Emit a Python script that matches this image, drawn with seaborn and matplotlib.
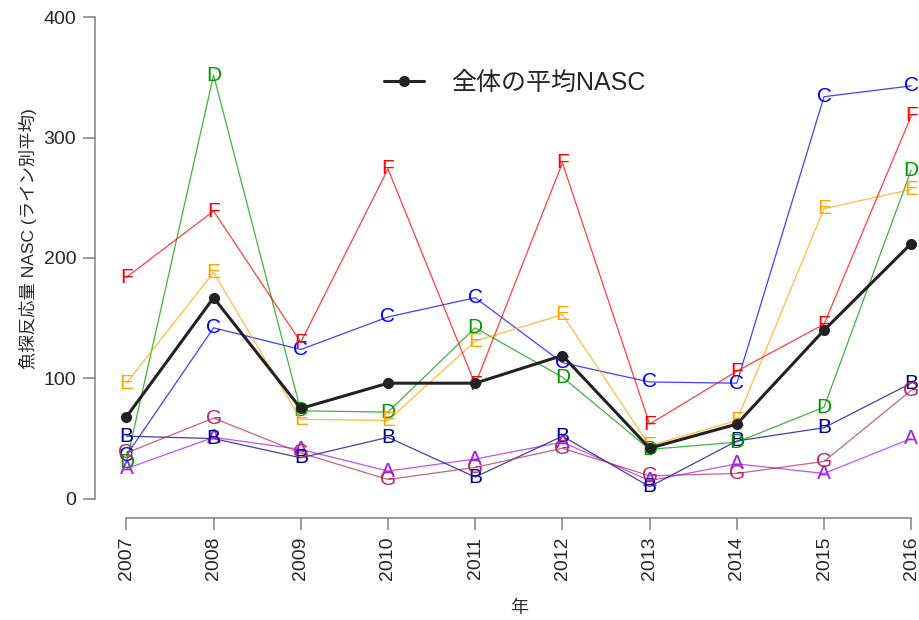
import pandas as pd
from matplotlib import pyplot as plt
import seaborn as sns

years = [2007, 2008, 2009, 2010, 2011, 2012, 2013, 2014, 2015, 2016]
line_names = ['A', 'B', 'C', 'D', 'E', 'F', 'G']
line_A = [25, 51, 41, 23, 33, 47, 15, 29, 21, 50]
line_B = [52, 50, 34, 51, 18, 52, 10, 48, 59, 96]
line_C = [36, 142, 124, 151, 167, 113, 97, 96, 334, 343]
line_D = [30, 352, 73, 72, 142, 101, 41, 47, 76, 273]
line_E = [96, 188, 66, 65, 131, 153, 44, 65, 241, 257]
line_F = [184, 239, 130, 274, 95, 279, 62, 106, 145, 318]
line_G = [38, 67, 38, 16, 26, 42, 19, 21, 31, 90]
mean_nasc = [68, 167, 75, 96, 96, 119, 42, 62, 140, 212]

colors = {'A': '#A020F0', 'B': '#00008B', 'C': '#0000FF', 'D': '#009900',
          'E': '#FFA500', 'F': '#FF0000', 'G': '#B03060'}

series = [line_A, line_B, line_C, line_D, line_E, line_F, line_G]
df = pd.DataFrame({
    'year': years * len(line_names),
    'line': [n for n in line_names for _ in years],
    'nasc': [v for s in series for v in s],
})
df_mean = pd.DataFrame({'year': years, 'nasc': mean_nasc})

sns.set_style('white')
plt.rcParams['font.family'] = ['Liberation Sans', 'Noto Sans CJK JP']

fig = plt.figure(figsize=(9.2, 6.2), dpi=100)
ax = fig.add_axes([95 / 920, 102 / 620, 847.6 / 920, 520 / 620])

# thin coloured lines per survey line
sns.lineplot(data=df, x='year', y='nasc', hue='line', palette=colors,
             linewidth=0.9, alpha=0.75, legend=False, ax=ax)
# letters as point markers
for name, s in zip(line_names, series):
    for x, y in zip(years, s):
        ax.text(x, y, name, color=colors[name], fontsize=15,
                ha='center', va='center', zorder=4)

sns.lineplot(data=df_mean, x='year', y='nasc', color='#222222', linewidth=2.2,
             marker='o', markersize=8, markeredgewidth=0, label='全体の平均NASC',
             ax=ax, zorder=5)

ax.set_xlim(2006.64, 2016.36)
ax.set_ylim(-16, 416)
ax.set_xticks(years)
ax.set_xticklabels([str(y) for y in years], rotation=90)
ax.set_yticks([0, 100, 200, 300, 400])
ax.tick_params(axis='both', direction='out', length=8.5, width=1.1,
               color='#808080', labelsize=14, pad=5, left=True, bottom=True)
for side in ['top', 'right']:
    ax.spines[side].set_visible(False)
for side in ['left', 'bottom']:
    ax.spines[side].set_color('#808080')
    ax.spines[side].set_linewidth(1.1)
ax.spines['left'].set_bounds(0, 400)
ax.spines['bottom'].set_bounds(2007, 2016)

ax.set_xlabel('年', fontsize=13, labelpad=14)
ax.set_ylabel('魚探反応量 NASC (ライン別平均)', fontsize=12.5)
ax.yaxis.set_label_coords(-0.068, 0.538)

ax.legend(loc='upper center', bbox_to_anchor=(0.5 - 0.005, 0.903), frameon=False,
          fontsize=18, handlelength=1.6, handletextpad=1.1)

fig.savefig('out.png', dpi=100)
